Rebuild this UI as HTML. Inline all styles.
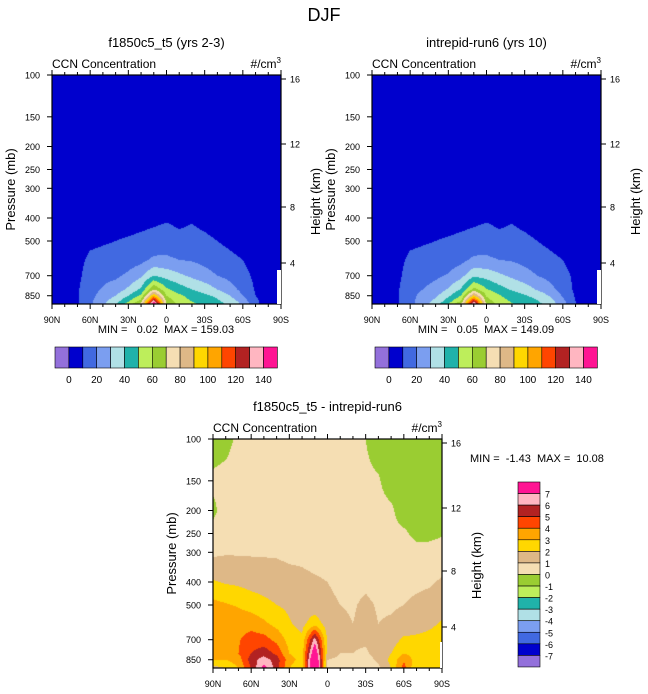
<!DOCTYPE html>
<html><head><meta charset="utf-8">
<style>
body{margin:0;background:#fff;width:648px;height:694px;position:relative;overflow:hidden;font-family:"Liberation Sans",sans-serif}
canvas{position:absolute}
svg{position:absolute;left:0;top:0}
</style></head>
<body>
<canvas id="c1" width="229" height="229" style="left:52px;top:75px"></canvas>
<canvas id="c2" width="229" height="229" style="left:372px;top:75px"></canvas>
<canvas id="c3" width="229" height="229" style="left:213px;top:439px"></canvas>
<svg id="s" width="648" height="694"></svg>
<script>
// ---- data ----
const lats = [90,80,70,60,50,40,30,20,10,0,-10,-20,-30,-40,-50,-60,-70,-80,-90];
const levA = [100,300,400,500,600,700,800,850,900,925];
const gridA = [
[1,1,1,2,3,4,5,5,5,5],
[1,1,2,3,4,5,6,6,6,6],
[1,2,3,5,7,8,9,9,9,9],
[1,2,4,8,12,14,16,17,18,18],
[1,2,5,9,13,17,21,24,27,28],
[1,2,6,10,14,18,25,30,36,40],
[1,2,6,11,15,22,32,40,50,55],
[1,3,7,12,17,28,42,52,65,75],
[1,3,8,13,22,40,70,100,140,159],
[1,3,9,14,22,36,52,60,66,68],
[1,3,8,12,20,32,45,52,56,58],
[1,3,9,13,19,28,40,46,50,52],
[1,2,7,12,17,24,36,42,46,48],
[1,2,5,10,14,20,30,38,42,44],
[1,2,4,8,12,17,24,30,36,38],
[1,2,3,6,10,13,17,20,26,28],
[1,1,2,4,6,8,9,10,12,12],
[1,1,1,2,3,4,5,5,5,5],
[1,1,1,1,2,3,4,4,4,4]];
const gridB = [
[1,1,1,2,3,4,5,5,5,5],
[1,1,2,3,4,5,6,6,6,6],
[1,2,3,5,7,8,9,9,9,9],
[1,2,4,8,12,14,16,17,17,17],
[1,2,5,9,13,16,20,23,25,26],
[1,2,6,10,14,18,24,28,33,36],
[1,2,6,11,15,21,31,38,46,51],
[1,3,7,12,17,27,41,50,62,72],
[1,3,8,13,22,38,64,92,130,149],
[1,3,9,14,22,36,51,59,65,67],
[1,3,8,12,20,32,44,51,55,57],
[1,3,9,13,19,28,39,45,49,51],
[1,2,7,12,17,24,35,41,45,47],
[1,2,5,10,14,20,29,37,41,43],
[1,2,4,8,12,17,23,29,34,36],
[1,2,3,6,10,13,16,19,23,24],
[1,1,2,4,6,8,8,9,10,10],
[1,1,1,2,3,4,5,5,5,5],
[1,1,1,1,2,3,4,4,4,4]];
const levD = [100,150,200,250,300,400,500,600,700,800,850,925];
const gridD = [
[-0.5,0.2,-0.2,0.3,0.8,2.1,3.3,3.8,3.7,3.3,3.0,1.5],
[-0.3,0.3,0.4,0.5,0.9,1.9,3.1,3.7,3.7,3.4,3.0,2.0],
[0.2,0.4,0.4,0.5,0.9,1.8,2.9,3.6,3.9,4.0,3.5,3.0],
[0.3,0.4,0.4,0.5,0.9,1.6,2.6,3.6,4.5,5.0,5.5,5.0],
[0.3,0.4,0.4,0.5,0.9,1.5,2.3,3.2,4.4,5.6,6.5,7.5],
[0.3,0.4,0.4,0.5,0.9,1.4,2.0,2.7,3.7,4.8,5.5,5.5],
[0.3,0.4,0.4,0.5,0.8,1.3,1.8,2.1,2.6,3.0,3.4,3.0],
[0.3,0.4,0.4,0.5,0.8,1.2,1.5,1.7,2.2,2.5,2.6,2.2],
[0.3,0.4,0.4,0.5,0.7,1.1,1.4,2.6,6.5,8.5,9.5,10],
[0.3,0.4,0.4,0.5,0.7,1.0,1.2,1.5,1.8,1.5,1.0,0.8],
[0.3,0.4,0.4,0.5,0.6,0.8,1.0,1.2,1.3,1.0,0.8,0.5],
[0.2,0.3,0.3,0.4,0.5,0.7,0.9,1.0,1.1,1.0,0.8,0.5],
[0,0.2,0.3,0.3,0.5,0.8,1.2,1.3,1.1,0.9,0.6,0.2],
[-0.5,0.1,0.3,0.3,0.4,0.6,0.9,1.0,1.2,1.3,1.2,0.8],
[-0.8,-0.5,0.2,0.3,0.4,0.6,0.9,1.1,1.5,2.0,2.3,2.0],
[-0.8,-0.7,-0.6,0.2,0.4,0.7,1.0,1.3,2.2,3.0,3.8,4.5],
[-0.8,-0.7,-0.6,-0.3,0.4,0.8,1.2,1.6,2.2,2.7,2.5,2.0],
[-0.8,-0.7,-0.6,-0.3,0.4,0.9,1.3,1.8,2.3,2.5,2.4,2.0],
[-0.8,-0.7,-0.6,-0.1,0.5,1.1,1.6,2.1,2.6,2.8,2.7,2.5]];
const contA = [0,10,20,30,40,50,60,70,80,90,100,110,120,130,140];
const contD = [-7,-6,-5,-4,-3,-2,-1,0,1,2,3,4,5,6,7];
const labA = ["0","20","40","60","80","100","120","140"];
const labD = ["7","6","5","4","3","2","1","0","-1","-2","-3","-4","-5","-6","-7"];
const pTicks = [100,150,200,250,300,400,500,700,850];
const hTicks = [16,12,8,4];
const hTickOff = [4,69,132,188];
const latTicks = ["90N","60N","30N","0","30S","60S","90S"];
const colors = ["#9370DB","#0000CD","#4169E1","#7B9EF0","#B0E0E6","#20B2AA","#BDEE5B","#9ACD32","#F5DEB3","#DEB887","#FFD700","#FFA500","#FF4500","#B22222","#FFB6C1","#FF1493"];

// ---- axes ----
const W=229,H=229,DEC=237.5;
const py = p => Math.log10(p/100)*DEC;
const px = lat => (90-lat)/180*W;
function hex(c){return [parseInt(c.slice(1,3),16),parseInt(c.slice(3,5),16),parseInt(c.slice(5,7),16)];}
const rgb = colors.map(hex);
function colorIdx(v,cont){let i=0;while(i<cont.length&&v>=cont[i])i++;return i;}
function interp(grid,lev,lat,p){
  let fi=(90-lat)/10; let i0=Math.min(Math.floor(fi),lats.length-2); let tx=fi-i0;
  const lp=Math.log10(p); let j0=0;
  while(j0<lev.length-2&&lp>Math.log10(lev[j0+1]))j0++;
  const a=Math.log10(lev[j0]),b=Math.log10(lev[j0+1]);
  let ty=Math.max(0,Math.min(1,(lp-a)/(b-a)));
  const g=grid;
  return (1-tx)*((1-ty)*g[i0][j0]+ty*g[i0][j0+1])+tx*((1-ty)*g[i0+1][j0]+ty*g[i0+1][j0+1]);
}
function fill(id,grid,lev,cont){
  const ctx=document.getElementById(id).getContext('2d');
  const img=ctx.createImageData(W,H);
  for(let y=0;y<H;y++){const p=100*Math.pow(10,(y+0.5)/DEC);
    for(let x=0;x<W;x++){const lat=90-(x+0.5)/W*180;
      const c=rgb[colorIdx(interp(grid,lev,lat,p),cont)];const k=(y*W+x)*4;
      img.data[k]=c[0];img.data[k+1]=c[1];img.data[k+2]=c[2];img.data[k+3]=255;}}
  ctx.putImageData(img,0,0);
}
fill('c1',gridA,levA,contA);fill('c2',gridB,levA,contA);fill('c3',gridD,levD,contD);

const S=document.getElementById('s');const NS='http://www.w3.org/2000/svg';
function el(tag,attrs,txt){const e=document.createElementNS(NS,tag);for(const k in attrs)e.setAttribute(k,attrs[k]);if(txt!==undefined)e.textContent=txt;S.appendChild(e);return e;}
function text(x,y,s,size,anchor,name,extra){const t=el('text',Object.assign({x:x,y:y,'font-size':size,'text-anchor':anchor||'start',fill:'#000'},extra||{}),s);
  
  return t;}

function axes(ox,oy,title,minmax,mmx,mmy,mmAnchor){
  text(ox+W/2,oy-28,title,13,'middle','panel-title');
  text(ox,oy-7,'CCN Concentration',12,'start','variable-label');
  const u=text(ox+W,oy-7,'#/cm',12,'end','units-label');
  const sup=document.createElementNS(NS,'tspan');sup.setAttribute('font-size','8');sup.setAttribute('dy','-5');sup.textContent='3';u.appendChild(sup);
  const fr=el('rect',{x:ox,y:oy,width:W,height:H,fill:'none',stroke:'#000','stroke-width':1.2});
  
  
  pTicks.forEach(p=>{const y=oy+py(p);el('line',{x1:ox-5,x2:ox,y1:y,y2:y,stroke:'#000'});
    text(ox-12,y+3.5,String(p),9,'end','y-tick-label');});
  hTicks.forEach((h,i)=>{const y=oy+hTickOff[i];el('line',{x1:ox+W,x2:ox+W+5,y1:y,y2:y,stroke:'#000'});
    text(ox+W+9,y+3.5,String(h),9,'start','height-tick-label');});
  for(let l=90;l>=-90;l-=10){const x=ox+px(l);const maj=(l%30===0);
    el('line',{x1:x,x2:x,y1:oy+H,y2:oy+H+(maj?5:3),stroke:'#000'});
    el('line',{x1:x,x2:x,y1:oy,y2:oy-(maj?5:3),stroke:'#000'});}
  latTicks.forEach((s,i)=>{text(ox+i*W/6,oy+H+19,s,9,'middle','x-tick-label');});
  text(0,0,'Pressure (mb)',13,'middle','y-axis-title',{transform:`translate(${ox-37},${oy+H/2}) rotate(-90)`});
  text(0,0,'Height (km)',13,'middle','height-axis-title',{transform:`translate(${ox+W+39},${oy+H/2+12}) rotate(-90)`});
  text(mmx,mmy,minmax,11,mmAnchor,'min-max-label',{style:'white-space:pre'});
}
text(324,21,'DJF',18,'middle','main-title');
axes(52,75,'f1850c5_t5 (yrs 2-3)','MIN =   0.02  MAX = 159.03',166,333,'middle');
axes(372,75,'intrepid-run6 (yrs 10)','MIN =   0.05  MAX = 149.09',486,333,'middle');
axes(213,439,'f1850c5_t5 - intrepid-run6','MIN =  -1.43  MAX =  10.08',470,462,'start');

// white missing areas near 90S surface
[[277,270,4,34],[597,270,4,34],[440,642,2,26]].forEach(r=>{const m=el('rect',{x:r[0],y:r[1],width:r[2],height:r[3],fill:'#fff'});
  
  });

// horizontal colorbars
function hbar(ox){const bw=13.9;
  colors.forEach((c,i)=>{const r=el('rect',{x:ox+i*bw,y:347,width:bw,height:21,fill:c,stroke:'#000','stroke-width':0.6});
    
    });
  labA.forEach((s,i)=>{text(ox+bw*(1+2*i),383,s,10,'middle','colorbar-label');});}
hbar(55);hbar(375);
// vertical colorbar
(function(){const bx=518,by=482,bh=11.56;
  colors.slice().reverse().forEach((c,i)=>{const r=el('rect',{x:bx,y:by+i*bh,width:22,height:bh,fill:c,stroke:'#000','stroke-width':0.6});
    
    });
  labD.forEach((s,i)=>{text(545,by+(i+1)*bh+4,s,9,'start','colorbar-label');});})();
</script>
</body></html>
